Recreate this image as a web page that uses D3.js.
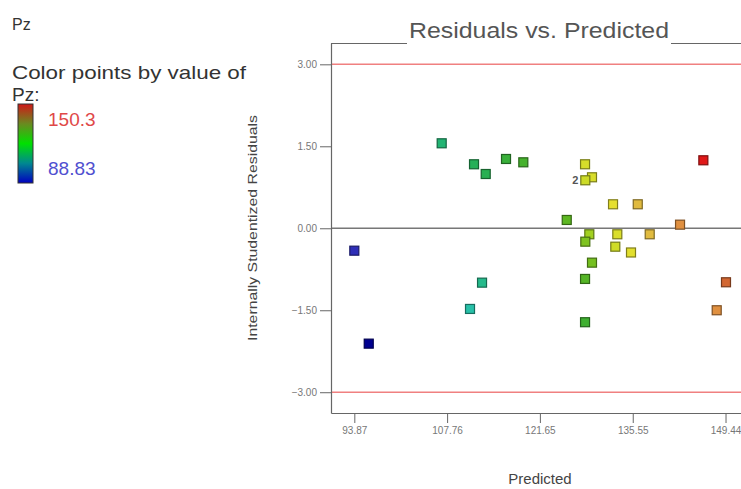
<!DOCTYPE html>
<html>
<head>
<meta charset="utf-8">
<script src="https://cdn.jsdelivr.net/npm/d3@7"></script>
<style>
  body { margin: 0; background: #fff; }
  svg { display: block; font-family: "Liberation Sans", Arial, sans-serif; }
</style>
</head>
<body>
<svg id="chart" width="741" height="489"></svg>
<script>
// ---- data ----
const predicted = [106.95, 111.79, 113.54, 116.58, 119.17, 128.41, 129.45, 128.45, 132.6, 136.3,
                   125.67, 142.63, 146.12, 93.87, 129.05, 128.45, 133.24, 138.09, 132.94, 135.29,
                   129.45, 128.41, 112.99, 111.19, 128.41, 96.03, 149.51, 148.12];
const residuals = [1.555, 1.171, 0.993, 1.268, 1.207, 1.171, 0.933, 0.878, 0.439, 0.439,
                   0.152, 0.066, 1.244, -0.41, -0.11, -0.245, -0.11, -0.11, -0.337, -0.443,
                   -0.629, -0.927, -0.995, -1.476, -1.719, -2.111, -0.988, -1.5];
const pzValues  = [112.4, 115.9, 117.0, 121.0, 123.4, 132.5, 132.7, 131.5, 134.1, 137.8,
                   126.2, 142.9, 150.3, 92.4, 128.7, 127.6, 132.9, 137.7, 131.8, 133.7,
                   127.3, 125.2, 109.5, 106.0, 122.4, 88.83, 146.1, 142.9];
const pointCounts = [1,1,1,1,1,1,1,2,1,1,1,1,1,1,1,1,1,1,1,1,1,1,1,1,1,1,1,1];
const xTicks = [93.87, 107.76, 121.65, 135.55, 149.44];
const yTicks = [-3.0, -1.5, 0, 1.5, 3.0];
const limitLines = [3.0, -3.0];
const pzMin = 88.83, pzMax = 150.3;

const svg = d3.select("#chart");

// ---- scales ----
const x = d3.scaleLinear().domain([90.38, 154.6]).range([331, 760]);
const y = d3.scaleLinear().domain([-3.38, 3.39]).range([413, 43]);

const colorStops = [0, 0.06, 0.28, 0.42, 0.55, 0.615, 0.66, 0.74, 0.80, 0.88, 0.94, 1];
const colorRange = ["#000090", "#3030b8", "#28c0a8", "#20b060", "#40b030", "#60b820",
                    "#b8d820", "#e8e030", "#e0b840", "#e09040", "#d06030", "#e01818"];
const tNorm = d3.scaleLinear().domain([pzMin, pzMax]).range([0, 1]);
const color = d3.scaleLinear().domain(colorStops).range(colorRange);

// ---- left legend ----
svg.append("text").attr("x", 12).attr("y", 30).attr("font-size", 16).attr("fill", "#333").text("Pz");
svg.append("text").attr("x", 12).attr("y", 79).attr("font-size", 19).attr("fill", "#333")
  .attr("textLength", 234).attr("lengthAdjust", "spacingAndGlyphs").text("Color points by value of");
svg.append("text").attr("x", 12).attr("y", 101).attr("font-size", 19).attr("fill", "#333").text("Pz:");

const defs = svg.append("defs");
const grad = defs.append("linearGradient").attr("id", "pzgrad")
  .attr("x1", 0).attr("y1", 1).attr("x2", 0).attr("y2", 0);
const legendStops = [[0, "#0000c0"], [0.25, "#008890"], [0.5, "#00e000"], [0.75, "#6a8a20"], [1, "#d01818"]];
legendStops.forEach(s => grad.append("stop").attr("offset", s[0]).attr("stop-color", s[1]));
svg.append("rect").attr("x", 18).attr("y", 104).attr("width", 15).attr("height", 79)
  .attr("fill", "url(#pzgrad)").attr("stroke", "#333").attr("stroke-width", 1);
svg.append("text").attr("x", 48).attr("y", 126).attr("font-size", 19).attr("fill", "#e04848").text(pzMax.toString());
svg.append("text").attr("x", 48).attr("y", 175).attr("font-size", 19).attr("fill", "#5050d0").text(pzMin.toString());

// ---- title & frame ----
const title = svg.append("text").attr("x", 539).attr("y", 38).attr("text-anchor", "middle")
  .attr("font-size", 22).attr("fill", "#555")
  .attr("textLength", 260).attr("lengthAdjust", "spacingAndGlyphs").text("Residuals vs. Predicted");
const tb = title.node().getBBox();
svg.append("line").attr("x1", 331).attr("x2", tb.x - 2).attr("y1", 43.5).attr("y2", 43.5)
  .attr("stroke", "#666").attr("stroke-width", 1.2);
svg.append("line").attr("x1", tb.x + tb.width + 2).attr("x2", 760).attr("y1", 43.5).attr("y2", 43.5)
  .attr("stroke", "#666").attr("stroke-width", 1.2);

// ---- limit lines and zero line ----
svg.selectAll("line.limit").data(limitLines).enter().append("line").attr("class", "limit")
  .attr("x1", 331).attr("x2", 760).attr("y1", d => y(d)).attr("y2", d => y(d))
  .attr("stroke", "#f08080").attr("stroke-width", 1.5);
svg.append("line").attr("x1", 331).attr("x2", 760).attr("y1", y(0)).attr("y2", y(0))
  .attr("stroke", "#777").attr("stroke-width", 1.5);

// ---- axes ----
const yAxis = svg.append("g").attr("transform", "translate(331,0)")
  .call(d3.axisLeft(y).tickValues(yTicks).tickFormat(d3.format(".2f")).tickSize(11).tickSizeOuter(0).tickPadding(3));
const xAxis = svg.append("g").attr("transform", "translate(0,413)")
  .call(d3.axisBottom(x).tickValues(xTicks).tickFormat(d => d.toFixed(2)).tickSize(10).tickSizeOuter(0).tickPadding(4));
[yAxis, xAxis].forEach(g => {
  g.select(".domain").attr("stroke", "#666").attr("stroke-width", 1.2);
  g.selectAll(".tick line").attr("stroke", "#666");
  g.selectAll(".tick text").attr("fill", "#777").attr("font-size", 10).attr("font-family", "Liberation Sans, Arial, sans-serif");
});

// axis titles
svg.append("text").attr("transform", "translate(257,228) rotate(-90)").attr("text-anchor", "middle")
  .attr("font-size", 13).attr("fill", "#444").attr("textLength", 226).attr("lengthAdjust", "spacingAndGlyphs")
  .text("Internally Studentized Residuals");
svg.append("text").attr("x", 540).attr("y", 484).attr("text-anchor", "middle")
  .attr("font-size", 15).attr("fill", "#444").text("Predicted");

// ---- points ----
const pts = predicted.map((p, i) => ({ p, r: residuals[i], v: pzValues[i], n: pointCounts[i] }));
const s = 9;
svg.selectAll("rect.pt").data(pts).enter().append("rect").attr("class", "pt")
  .attr("x", d => x(d.p) - s / 2).attr("y", d => y(d.r) - s / 2)
  .attr("width", s).attr("height", s)
  .attr("fill", d => color(tNorm(d.v)))
  .attr("stroke", d => d3.color(color(tNorm(d.v))).darker(1.6))
  .attr("stroke-width", 1.2);
svg.selectAll("text.cnt").data(pts.filter(d => d.n > 1)).enter().append("text").attr("class", "cnt")
  .attr("x", d => x(d.p) - 7).attr("y", d => y(d.r) + 4).attr("text-anchor", "end")
  .attr("font-size", 11).attr("font-weight", "bold").attr("fill", "#555").text(d => d.n);
</script>
</body>
</html>
